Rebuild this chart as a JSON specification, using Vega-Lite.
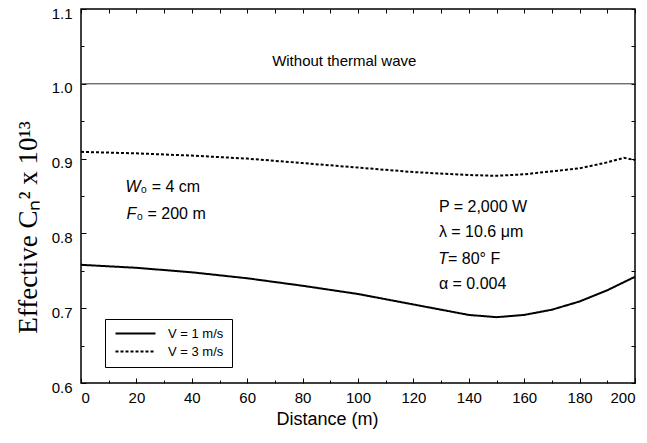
{
  "$schema": "https://vega.github.io/schema/vega-lite/v6.json",
  "autosize": {"type": "none"},
  "width": 554,
  "height": 374,
  "padding": {"left": 81, "top": 9, "right": 12, "bottom": 60},
  "background": "white",
  "config": {
    "view": {"stroke": "black", "strokeWidth": 1.5},
    "axis": {"grid": false, "domain": false, "labelFont": "Liberation Sans", "labelFontSize": 15, "labelColor": "black", "tickColor": "black", "titleColor": "black"},
    "legend": {"labelFont": "Liberation Sans", "labelFontSize": 13, "labelColor": "black"}
  },
  "datasets": {
    "curves": [
      {"d": 0, "v": 0.758, "s": "V = 1 m/s"},
      {"d": 20, "v": 0.754, "s": "V = 1 m/s"},
      {"d": 40, "v": 0.748, "s": "V = 1 m/s"},
      {"d": 60, "v": 0.740, "s": "V = 1 m/s"},
      {"d": 80, "v": 0.730, "s": "V = 1 m/s"},
      {"d": 100, "v": 0.719, "s": "V = 1 m/s"},
      {"d": 120, "v": 0.705, "s": "V = 1 m/s"},
      {"d": 140, "v": 0.691, "s": "V = 1 m/s"},
      {"d": 150, "v": 0.688, "s": "V = 1 m/s"},
      {"d": 160, "v": 0.691, "s": "V = 1 m/s"},
      {"d": 170, "v": 0.698, "s": "V = 1 m/s"},
      {"d": 180, "v": 0.709, "s": "V = 1 m/s"},
      {"d": 190, "v": 0.724, "s": "V = 1 m/s"},
      {"d": 200, "v": 0.742, "s": "V = 1 m/s"},
      {"d": 0, "v": 0.909, "s": "V = 3 m/s"},
      {"d": 20, "v": 0.907, "s": "V = 3 m/s"},
      {"d": 40, "v": 0.904, "s": "V = 3 m/s"},
      {"d": 60, "v": 0.900, "s": "V = 3 m/s"},
      {"d": 80, "v": 0.894, "s": "V = 3 m/s"},
      {"d": 100, "v": 0.888, "s": "V = 3 m/s"},
      {"d": 120, "v": 0.882, "s": "V = 3 m/s"},
      {"d": 140, "v": 0.878, "s": "V = 3 m/s"},
      {"d": 150, "v": 0.877, "s": "V = 3 m/s"},
      {"d": 160, "v": 0.879, "s": "V = 3 m/s"},
      {"d": 180, "v": 0.887, "s": "V = 3 m/s"},
      {"d": 190, "v": 0.895, "s": "V = 3 m/s"},
      {"d": 196, "v": 0.901, "s": "V = 3 m/s"},
      {"d": 200, "v": 0.898, "s": "V = 3 m/s"}
    ],
    "ref": [{"d": 0, "v": 1.0}, {"d": 200, "v": 1.0}],
    "notes": [
      {"x": 21.5, "y": 0.862, "it": "W", "rest": "₀ = 4 cm"},
      {"x": 20.0, "y": 0.826, "it": "F", "rest": "₀ = 200 m"},
      {"x": 129.2, "y": 0.835, "it": "", "rest": "P = 2,000 W"},
      {"x": 129.2, "y": 0.802, "it": "", "rest": "λ = 10.6 μm"},
      {"x": 132.5, "y": 0.766, "it": "T", "rest": "\u2002= 80° F"},
      {"x": 129.2, "y": 0.732, "it": "", "rest": "α = 0.004"}
    ],
    "title": [{"x": 69, "y": 1.030, "t": "Without thermal wave"}]
  },
  "layer": [
    {
      "data": {"name": "curves"},
      "mark": {"type": "line", "color": "black", "strokeWidth": 2},
      "encoding": {
        "x": {"field": "d", "type": "quantitative", "scale": {"domain": [0, 200], "nice": false},
              "axis": {"orient": "bottom", "values": [0,10,20,30,40,50,60,70,80,90,100,110,120,130,140,150,160,170,180,190,200],
                       "labelExpr": "datum.value % 20 == 0 ? datum.label : ''",
                       "tickSize": {"condition": {"test": "datum.value % 20 == 0", "value": -5}, "value": -3},
                       "labelPadding": 12, "labelOverlap": false, "title": "Distance (m)", "titleFont": "Liberation Sans", "titleFontSize": 18, "titleFontWeight": "normal", "titlePadding": 3, "titleX": 246}},
        "y": {"field": "v", "type": "quantitative", "scale": {"domain": [0.6, 1.1], "nice": false, "zero": false},
              "axis": {"orient": "left", "values": [0.6,0.65,0.7,0.75,0.8,0.85,0.9,0.95,1.0,1.05,1.1],
                       "labelExpr": "abs(datum.value * 10 - round(datum.value * 10)) < 0.01 ? format(datum.value, '.1f') : ''",
                       "tickSize": {"condition": {"test": "abs(datum.value * 10 - round(datum.value * 10)) < 0.01", "value": -5}, "value": -3},
                       "labelPadding": 14, "labelOffset": 4, "labelOverlap": false, "title": "Effective Cₙ² x 10¹³", "titleFont": "Liberation Serif", "titleFontSize": 27, "titleFontWeight": "normal", "titlePadding": 9, "titleY": 218}},
        "strokeDash": {"field": "s", "type": "nominal",
          "scale": {"domain": ["V = 1 m/s", "V = 3 m/s"], "range": [[1, 0], [3, 2]]},
          "legend": {"title": null, "orient": "none", "legendX": 24, "legendY": 310, "strokeColor": "black", "padding": 8, "symbolType": "M-1,0H9", "symbolSize": 64, "symbolStrokeWidth": 2, "symbolStrokeColor": "black", "labelOffset": 42, "rowPadding": 4, "fillColor": "white"}}
      }
    },
    {
      "data": {"name": "ref"},
      "mark": {"type": "line", "color": "#333333", "strokeWidth": 1},
      "encoding": {
        "x": {"field": "d", "type": "quantitative",
              "axis": {"orient": "top", "values": [0,10,20,30,40,50,60,70,80,90,100,110,120,130,140,150,160,170,180,190,200], "labels": false, "tickSize": -4, "title": null}},
        "y": {"field": "v", "type": "quantitative",
              "axis": {"orient": "right", "values": [0.6,0.65,0.7,0.75,0.8,0.85,0.9,0.95,1.0,1.05,1.1], "labels": false, "tickSize": -4, "title": null}}
      }
    },
    {
      "data": {"name": "title"},
      "mark": {"type": "text", "align": "left", "baseline": "middle", "font": "Liberation Sans", "fontSize": 15, "color": "black"},
      "encoding": {
        "x": {"field": "x", "type": "quantitative", "axis": null},
        "y": {"field": "y", "type": "quantitative", "axis": null},
        "text": {"field": "t"}
      }
    },
    {
      "data": {"name": "notes"},
      "mark": {"type": "text", "align": "right", "baseline": "middle", "font": "Liberation Sans", "fontSize": 16, "fontStyle": "italic", "color": "black"},
      "encoding": {
        "x": {"field": "x", "type": "quantitative", "axis": null},
        "y": {"field": "y", "type": "quantitative", "axis": null},
        "text": {"field": "it"}
      }
    },
    {
      "data": {"name": "notes"},
      "mark": {"type": "text", "align": "left", "baseline": "middle", "font": "Liberation Sans", "fontSize": 16, "color": "black"},
      "encoding": {
        "x": {"field": "x", "type": "quantitative", "axis": null},
        "y": {"field": "y", "type": "quantitative", "axis": null},
        "text": {"field": "rest"}
      }
    }
  ],
  "resolve": {"axis": {"x": "independent", "y": "independent"}}
}
